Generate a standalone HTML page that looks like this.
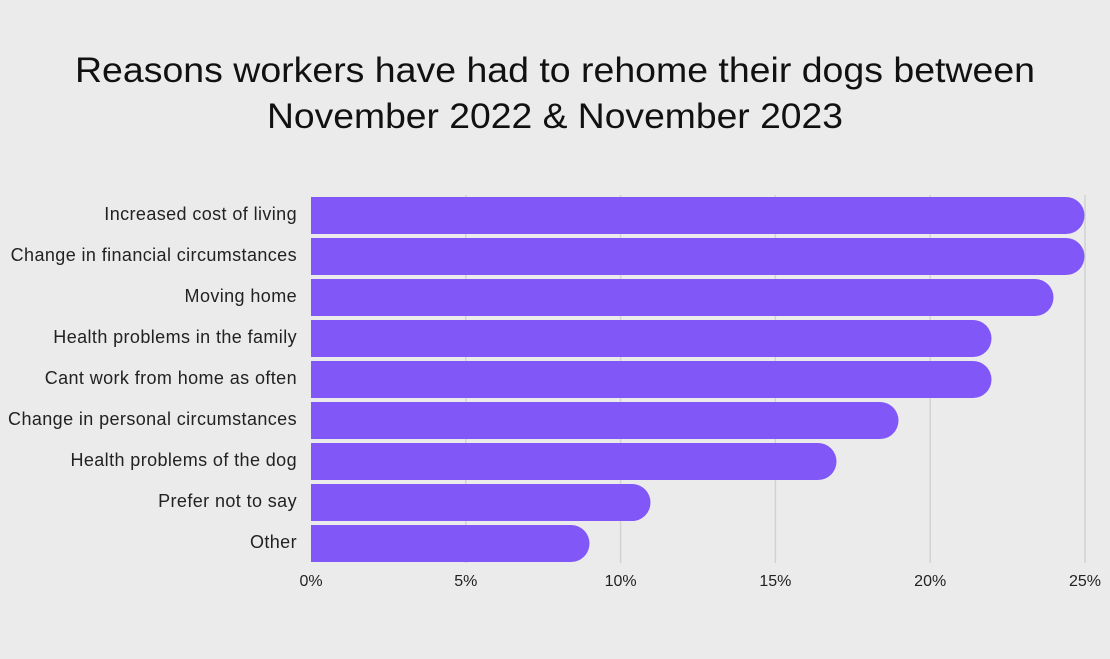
<!DOCTYPE html>
<html><head><meta charset="utf-8"><style>
html,body{margin:0;padding:0;background:#ebebeb;}
svg{display:block;font-family:"Liberation Sans",sans-serif;}
</style></head><body>
<svg width="1110" height="659" viewBox="0 0 1110 659" xmlns="http://www.w3.org/2000/svg">
<rect width="1110" height="659" fill="#ebebeb"/>
<text x="555" y="82" font-size="35" text-anchor="middle" fill="#111" textLength="960" lengthAdjust="spacingAndGlyphs">Reasons workers have had to rehome their dogs between</text>
<text x="555" y="128" font-size="35" text-anchor="middle" fill="#111" textLength="576" lengthAdjust="spacingAndGlyphs">November 2022 &amp; November 2023</text>
<g stroke="#d2d2d2" stroke-width="1.5">
<line x1="465.8" y1="195" x2="465.8" y2="563"/>
<line x1="620.6" y1="195" x2="620.6" y2="563"/>
<line x1="775.4" y1="195" x2="775.4" y2="563"/>
<line x1="930.2" y1="195" x2="930.2" y2="563"/>
<line x1="1085" y1="195" x2="1085" y2="563"/>
</g>
<g fill="#8157f8">
<path d="M311 197 H1066 A18.5 18.5 0 0 1 1066 234 H311 Z"/>
<path d="M311 238 H1066 A18.5 18.5 0 0 1 1066 275 H311 Z"/>
<path d="M311 279 H1035 A18.5 18.5 0 0 1 1035 316 H311 Z"/>
<path d="M311 320 H973 A18.5 18.5 0 0 1 973 357 H311 Z"/>
<path d="M311 361 H973 A18.5 18.5 0 0 1 973 398 H311 Z"/>
<path d="M311 402 H880 A18.5 18.5 0 0 1 880 439 H311 Z"/>
<path d="M311 443 H818 A18.5 18.5 0 0 1 818 480 H311 Z"/>
<path d="M311 484 H632 A18.5 18.5 0 0 1 632 521 H311 Z"/>
<path d="M311 525 H571 A18.5 18.5 0 0 1 571 562 H311 Z"/>
</g>
<g font-size="18" fill="#222" text-anchor="end" letter-spacing="0.4">
<text x="297" y="220">Increased cost of living</text>
<text x="297" y="261">Change in financial circumstances</text>
<text x="297" y="302">Moving home</text>
<text x="297" y="343">Health problems in the family</text>
<text x="297" y="384">Cant work from home as often</text>
<text x="297" y="425">Change in personal circumstances</text>
<text x="297" y="466">Health problems of the dog</text>
<text x="297" y="507">Prefer not to say</text>
<text x="297" y="548">Other</text>
</g>
<g font-size="16" fill="#222" text-anchor="middle">
<text x="311" y="586">0%</text>
<text x="465.8" y="586">5%</text>
<text x="620.6" y="586">10%</text>
<text x="775.4" y="586">15%</text>
<text x="930.2" y="586">20%</text>
<text x="1085" y="586">25%</text>
</g>
</svg>
</body></html>
